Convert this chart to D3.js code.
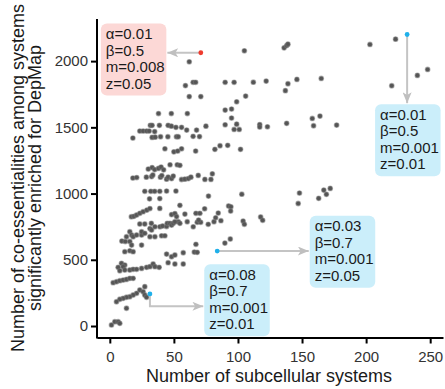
<!DOCTYPE html>
<html><head><meta charset="utf-8">
<script src="https://cdn.jsdelivr.net/npm/d3@7"></script>
<style>body{margin:0;background:#fff}svg{display:block}</style>
</head><body><svg id="c" width="445" height="389"></svg>
<script>
// ---------- data ----------
const xTicks = [0, 50, 100, 150, 200, 250];
const yTicks = [0, 500, 1000, 1500, 2000];
const xTitle = "Number of subcellular systems";
const yTitleLines = ["Number of co-essentialities among systems", "significantly enriched for DepMap"];

// [number of subcellular systems, number of co-essentialities]
const systemPoints = [
 [105,2078],[62,1995],[59,1815],[65,1840],[67,1840],[90,1840],[97,1840],[112,1841],[122,1849],[62,1732],[71,1732],[106,1736],[99,1693],[136,2100],[138,2117],[139,2128],[203,2126],[223,2166],[248,1937],[240,1892],[220,1814],[139,1829],[146,1862],[165,1869],[137,1777],
 [90,1630],[95,1638],[38,1604],[48,1604],[60.5,1604],[95,1570],[90,1519],[99,1524],[117,1521],[117,1502],[123,1504],[138,1530],[158,1567],[164,1585],[159,1512],[177,1517],[97,1484],[101,1484],
 [31.6,1515],[33,1515],[38.7,1515],[45.5,1515],[48,1509],[51.6,1500],[56,1500],[60,1479],[67.7,1479],[75,1509],
 [23.4,1472],[26,1472],[28.7,1472],[30.7,1472],[35,1468],
 [18,1419],[33,1424],[35.4,1426],[39.6,1429],[45.3,1429],[52,1429],[53.4,1429],[65,1432],[70,1430],
 [43,1338],[50,1315],[53,1321],[56,1338],[67,1321],[82,1334],[86,1361],[92,1364],[102,1334],
 [30,1185],[33,1196],[35,1181],[38,1190],[40,1200],[42,1179],[47,1217],[52.6,1217],[54.7,1213],
 [18,1117],[21,1121],[28.5,1124],[32.6,1128],[33.6,1140],[39.5,1124],[40.6,1136],[44.3,1109],[45.5,1124],[48.2,1113],[49.5,1132],[56,1106],[58.6,1109],[61.3,1113],[63.3,1124],[69,1137],[74.2,1107],[78.9,1107],[80,1149],
 [27.3,1017],[32,1017],[35,1017],[39,1017],[44.3,1019],[51.6,1019],
 [31,960],[39,962],[77,981],[103,995],[148,1004],[147,925],[163,964],[167,1026],[169,994],[172,1039],
 [16.8,825],[18.8,828],[20.9,838],[23.4,851],[26,863],[28.9,875],[31.3,887],[39,888],[54.7,911],
 [48.2,841],[50.8,849],[52.1,826],[58.6,845],[67.2,851],[70.3,851],[74,885],[84.6,853],[92.7,906],[94.5,900],[94.3,868],
 [60.4,787],[65.1,749],[68.2,783],[70.9,783],[69.3,800],[76.8,768],[81.3,787],[82.6,817],[86.7,795],[104,792],[105,768],[117.7,823],[119.3,798],[53.4,787],
 [23.4,770],[27.3,770],[32.4,775],[31.3,736],[32.6,725],[35.2,749],[39.1,749],[41.2,755],[44.3,751],[44.8,775],[46.9,775],[48.2,762],[49.5,775],[50.8,787],[54.7,775],
 [15.6,712],[17,687],[13,674],[18.2,674],[20.9,687],[24.8,687],[24.8,712],[27.3,700],[31.3,674],[35.2,674],[40.4,681],[43,681],
 [9.4,641],[12.1,638],[15.6,638],[17,611],[24.8,611],[11.7,561],[15.6,568],[18.2,561],
 [67.2,617],[89.8,626],[94,657],[65.9,558],[68.2,556],
 [44.3,543],[48.2,523],[50.8,536],[57.3,553],[45.5,478],[50.8,468],[57.3,468],
 [9.1,473],[11.7,460],[10.4,448],[6.5,443],[7.8,417],[11.7,423],[15.6,423],[18.2,428],[20.9,428],[24.8,435],[28.7,443],[31.3,448],[33.8,468],[35.2,448],[38.5,443],
 [2.6,327],[5.2,334],[7.8,342],[10.4,347],[13,352],[15.6,360],[18.2,360],
 [27.3,297],[23.4,272],[26,259],[20.9,247],[18.2,234],[15.6,221],[13,217],[10.4,209],[7.8,202],[5.2,183],[27.3,234],[28.7,217],
 [13,134],[1.3,8],[3.9,32],[6.5,32],[7.8,20]
];

// highlighted parameter settings
const highlightX = [71, 232, 83.8, 31.3];
const highlightY = [2063, 2201, 566, 242];
const highlightGroup = ["red", "blue", "blue", "blue"];
const annotationLabels = [
  ["α=0.01", "β=0.5", "m=0.008", "z=0.05"],
  ["α=0.01", "β=0.5", "m=0.001", "z=0.01"],
  ["α=0.03", "β=0.7", "m=0.001", "z=0.05"],
  ["α=0.08", "β=0.7", "m=0.001", "z=0.01"]
];

// ---------- layout / style ----------
const font = '"Liberation Sans", Arial, Helvetica, sans-serif';
const svg = d3.select("#c");
const x = d3.scaleLinear().domain([-10, 260]).range([97, 443]);
const y = d3.scaleLinear().domain([-83, 2318]).range([337, 19]);
const colors = {red: "#ee3b2e", blue: "#1fb0ea"};
const boxFill = {red: "#fcd8d6", blue: "#cbeefa"};
// annotation box top-left corners (data units) and arrow style
const boxAnchorX = [-7, 207, 156, 73.7];
const boxAnchorY = [2284, 1675, 832, 466];
const boxW = 65.5, boxH = 72, lineGap = 16.5;
const arrowType = ["left", "down", "right", "elbow"];

const defs = svg.append("defs");
defs.append("marker").attr("id", "ah")
  .attr("viewBox", "0 0 12 10").attr("refX", 12).attr("refY", 5)
  .attr("markerWidth", 12).attr("markerHeight", 9)
  .attr("markerUnits", "userSpaceOnUse").attr("orient", "auto")
  .append("path").attr("d", "M0,0 L12,5 L0,10 L3,5 Z").attr("fill", "#bfbfbf");

// axes
const gx = svg.append("g").attr("transform", "translate(0,337.5)")
  .call(d3.axisBottom(x).tickValues(xTicks).tickFormat(d3.format("d")).tickSize(6).tickSizeOuter(0).tickPadding(8));
const gy = svg.append("g").attr("transform", "translate(97,0)")
  .call(d3.axisLeft(y).tickValues(yTicks).tickFormat(d3.format("d")).tickSize(6).tickSizeOuter(0).tickPadding(3));
[gx, gy].forEach(g => {
  g.attr("font-family", font).attr("font-size", 15);
  g.select(".domain").attr("stroke", "#000").attr("stroke-width", 2);
  g.selectAll(".tick line").attr("stroke", "#000").attr("stroke-width", 2);
  g.selectAll(".tick text").attr("fill", "#333");
});
gy.select(".domain").attr("d", "M0,338.5V19");

// titles
svg.append("text").attr("x", 269).attr("y", 382).attr("text-anchor", "middle")
  .attr("font-family", font).attr("font-size", 18).attr("fill", "#1a1a1a").text(xTitle);
yTitleLines.forEach((t, i) => {
  svg.append("text").attr("transform", `translate(${23.5 + i * 17.5},178) rotate(-90)`)
    .attr("text-anchor", "middle").attr("font-family", font).attr("font-size", 18)
    .attr("fill", "#1a1a1a").text(t);
});

// points
svg.append("g").selectAll("circle").data(systemPoints).join("circle")
  .attr("cx", d => x(d[0])).attr("cy", d => y(d[1])).attr("r", 2.3)
  .attr("fill", "#555").attr("stroke", "rgba(120,120,120,0.5)").attr("stroke-width", 1.2);

// annotations
const ann = svg.append("g");
annotationLabels.forEach((lines, i) => {
  const bx = x(boxAnchorX[i]), by = y(boxAnchorY[i]);
  const px = x(highlightX[i]), py = y(highlightY[i]);
  let d;
  if (arrowType[i] === "left") d = `M${px},${py}H${bx + boxW + 1}`;
  else if (arrowType[i] === "down") d = `M${px},${py}V${by - 1}`;
  else if (arrowType[i] === "right") d = `M${px},${py}H${bx - 1}`;
  else d = `M${px},${py}V${by + 42}H${bx - 1}`;
  ann.append("path").attr("d", d).attr("fill", "none").attr("stroke", "#c4c4c4")
    .attr("stroke-width", 2).attr("marker-end", "url(#ah)");
  ann.append("rect").attr("x", bx).attr("y", by).attr("width", boxW).attr("height", boxH)
    .attr("rx", 6).attr("fill", boxFill[highlightGroup[i]]);
  lines.forEach((t, j) => {
    ann.append("text").attr("x", bx + 5).attr("y", by + 15.5 + j * lineGap)
      .attr("font-family", font).attr("font-size", 15).attr("fill", "#1a1a1a").text(t);
  });
  ann.append("circle").attr("cx", px).attr("cy", py).attr("r", 2.4)
    .attr("fill", colors[highlightGroup[i]]);
});
</script></body></html>
